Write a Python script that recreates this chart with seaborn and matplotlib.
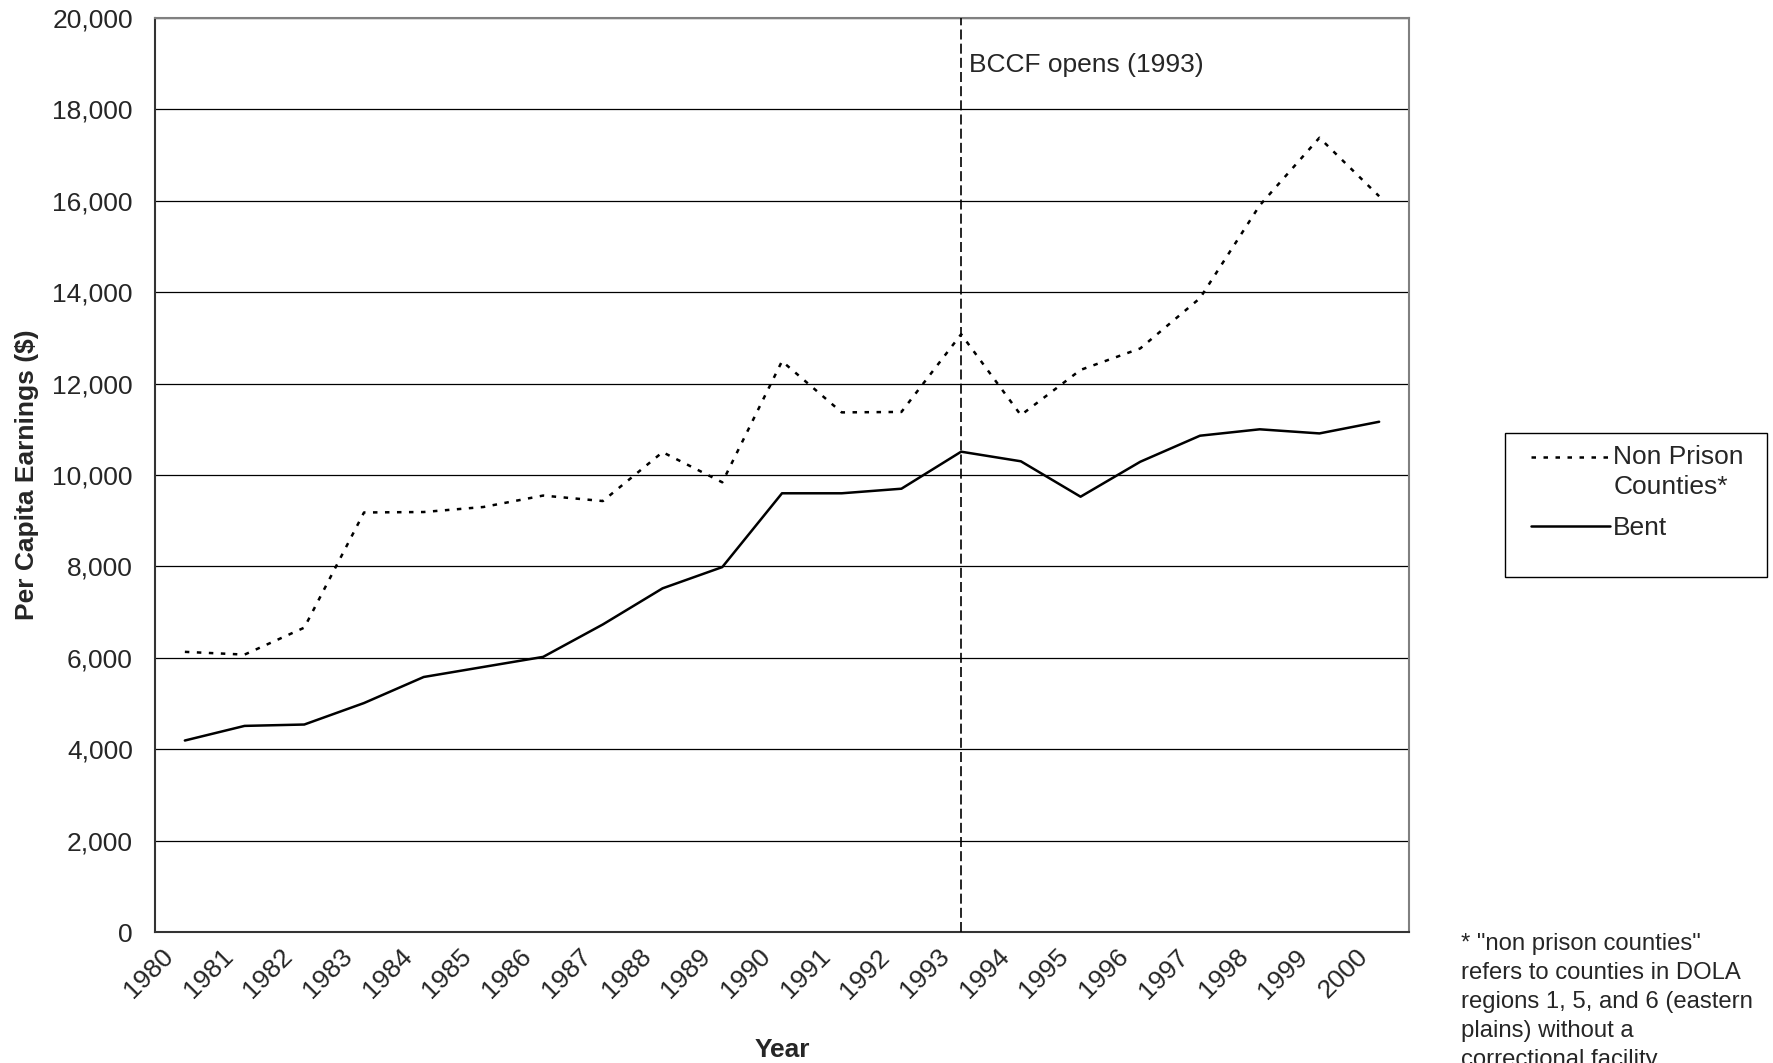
import matplotlib
matplotlib.use("Agg")
import matplotlib.pyplot as plt
import matplotlib.ticker as mticker
from matplotlib import transforms
from matplotlib.patches import Rectangle
from matplotlib.legend_handler import HandlerLine2D
import numpy as np
import pandas as pd
import seaborn as sns

# ---- data ----
years = ["1980", "1981", "1982", "1983", "1984", "1985", "1986", "1987", "1988", "1989",
         "1990", "1991", "1992", "1993", "1994", "1995", "1996", "1997", "1998", "1999", "2000"]
non_prison = [6130, 6070, 6660, 9180, 9190, 9300, 9550, 9430, 10500, 9840,
              12490, 11370, 11380, 13080, 11310, 12300, 12770, 13870, 15900, 17380, 16100]
bent = [4190, 4510, 4540, 5010, 5580, 5800, 6020, 6730, 7520, 7985,
        9600, 9600, 9700, 10510, 10300, 9525, 10290, 10860, 11000, 10910, 11165]
series_names = ["Non Prison\nCounties*", "Bent"]
y_ticks = [0, 2000, 4000, 6000, 8000, 10000, 12000, 14000, 16000, 18000, 20000]
event_year = "1993"
event_label = "BCCF opens (1993)"
footnote = ('* "non prison counties"\nrefers to counties in DOLA\n'
            'regions 1, 5, and 6 (eastern\nplains) without a\ncorrectional facility')

sns.set_style("white")
plt.rcParams["font.family"] = ["Liberation Sans", "DejaVu Sans"]
FS = 19

pos = np.arange(len(years)) + 0.5
df = pd.DataFrame({
    "pos": np.concatenate([pos, pos]),
    "value": non_prison + bent,
    "series": [series_names[0]] * len(years) + [series_names[1]] * len(years),
})

W, H = 1773, 1063
fig = plt.figure(figsize=(W / 100, H / 100), dpi=100)
ax = fig.add_axes([155 / W, 1 - 932 / H, 1254 / W, 914 / H])

sns.lineplot(data=df[df.series == series_names[0]], x="pos", y="value", ax=ax,
             color="black", linewidth=1.8, linestyle=(0, (1.8, 3.0)),
             label=series_names[0])
sns.lineplot(data=df[df.series == series_names[1]], x="pos", y="value", ax=ax,
             color="black", linewidth=1.8, linestyle="-", label=series_names[1])

ax.set_xlim(0, len(years))
ax.set_ylim(0, 20000)

ax.set_yticks(y_ticks)
ax.yaxis.set_major_formatter(mticker.FuncFormatter(lambda v, p: f"{int(v):,}"))
ax.grid(axis="y", color="black", linewidth=0.9)
ax.grid(axis="x", visible=False)
ax.set_axisbelow(True)

# x ticks: marks at category boundaries, labels at centers
ax.set_xticks(np.arange(0, len(years) + 1))
ax.set_xticklabels([])
ax.set_xticks(pos, minor=True)
ax.set_xticklabels(years, minor=True, rotation=45, ha="right", fontsize=FS)
ax.tick_params(axis="x", which="major", direction="out", length=6, width=1, color="#333333")
ax.tick_params(axis="x", which="minor", length=0, pad=9)
ax.tick_params(axis="y", direction="out", length=6, width=1, color="#333333",
               labelsize=FS, pad=10)
offset = transforms.ScaledTranslation(-7 / 100, 0, fig.dpi_scale_trans)
for lbl in ax.get_xticklabels(minor=True):
    lbl.set_transform(lbl.get_transform() + offset)

for side in ["top", "right"]:
    ax.spines[side].set_visible(True)
    ax.spines[side].set_color("#808080")
    ax.spines[side].set_linewidth(1.5)
for side in ["left", "bottom"]:
    ax.spines[side].set_color("#333333")
    ax.spines[side].set_linewidth(1.5)

ax.set_xlabel("Year", fontsize=FS, fontweight="bold")
ax.set_ylabel("Per Capita Earnings ($)", fontsize=FS, fontweight="bold")
ax.xaxis.set_label_coords(0.5, (932 - 1050) / 914)
ax.xaxis.label.set_va("center")
ax.yaxis.set_label_coords((27 - 155) / 1254, 0.5)
ax.yaxis.label.set_va("center")

# event line
ev_x = pos[years.index(event_year)]
ax.axvline(ev_x, color="black", linewidth=1.2, linestyle=(0, (6, 2.5)), zorder=3)
ax.annotate(event_label, xy=(ev_x, 18980), xytext=(6, 0), textcoords="offset points",
            fontsize=FS, va="center", ha="left")


# legend: handle for the two-line entry sits on its first line
class FirstLineHandler(HandlerLine2D):
    def __init__(self, shift, **kw):
        super().__init__(**kw)
        self.shift = shift

    def create_artists(self, legend, orig_handle, xdescent, ydescent, width, height,
                       fontsize, trans):
        arts = super().create_artists(legend, orig_handle, xdescent, ydescent, width,
                                      height, fontsize, trans)
        for a in arts:
            a.set_ydata(np.asarray(a.get_ydata()) + self.shift)
        return arts


ax.legend_.remove()
handles, labels = ax.get_legend_handles_labels()
leg = fig.legend(handles, labels, loc="upper left",
                 bbox_to_anchor=(1531 / W, 1 - 445 / H), borderaxespad=0,
                 fontsize=FS, frameon=False, handlelength=3.0, handletextpad=0.12,
                 borderpad=0, labelspacing=0.65,
                 handler_map={handles[0]: FirstLineHandler(shift=11)})
for t in leg.get_texts():
    t.set_linespacing(1.3)
fig.patches.append(Rectangle((1505 / W, 1 - 577 / H), 262 / W, 144 / H,
                             transform=fig.transFigure, fill=False,
                             edgecolor="black", linewidth=1.0))

fig.text(1461 / W, 1 - 933 / H, footnote, fontsize=17.2, va="top", ha="left",
         linespacing=1.41)

fig.savefig("out.png", dpi=100)
